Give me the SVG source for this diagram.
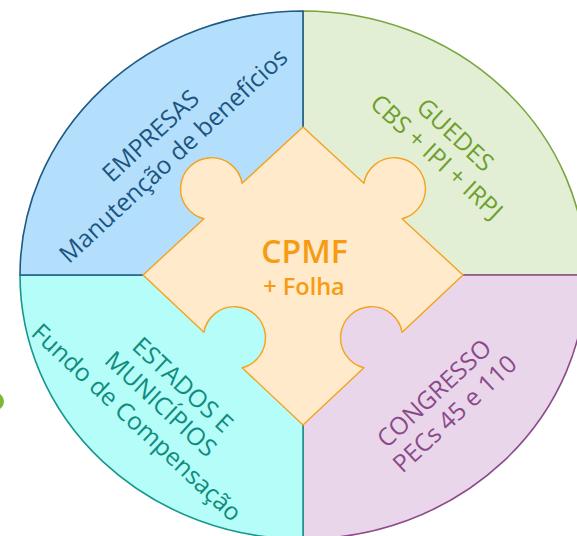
<svg xmlns="http://www.w3.org/2000/svg" width="577" height="536" viewBox="0 0 577 536">
<style>
.q{stroke-width:1.6;stroke-linejoin:round}
.t{font-family:"Open Sans","Liberation Sans",sans-serif;font-size:24.5px;font-weight:500;text-anchor:middle}
.c{font-family:"Open Sans","Liberation Sans",sans-serif;font-weight:600;text-anchor:middle;fill:#f59c12}
</style>
<rect width="577" height="536" fill="#ffffff"/>
<circle id="dot" cx="-5" cy="401.5" r="9" fill="#79b936"/>
<g id="guedes">
<path class="q" d="M303,275 L303,11 A283,264 0 0 1 586,275 Z" fill="#e3efd5" stroke="#7aa53e"/>
<g transform="translate(449.5,141) rotate(43)" fill="#6f9f2f" class="t">
<text x="0" y="0">GUEDES</text>
<text x="1.5" y="29">CBS + IPI + IRPJ</text>
</g>
</g>
<g id="congresso">
<path class="q" d="M303,275 L586,275 A283,264 0 0 1 303,539 Z" fill="#ead6ea" stroke="#8c4b8c"/>
<g transform="translate(440,399.5) rotate(-43)" fill="#8a4a8a" class="t">
<text x="0" y="0">CONGRESSO</text>
<text x="1" y="29">PECs 45 e 110</text>
</g>
</g>
<g id="estados">
<path class="q" d="M303,275 L303,539 A283,264 0 0 1 20,275 Z" fill="#b4fdf8" stroke="#18988b"/>
<g transform="translate(177,391) rotate(43)" fill="#108c7e" class="t">
<text x="0" y="0">ESTADOS E</text>
<text x="-3" y="29">MUNICÍPIOS</text>
<text x="-8" y="59">Fundo de Compensação</text>
</g>
</g>
<g id="empresas">
<path class="q" d="M303,275 L20,275 A283,264 0 0 1 303,11 Z" fill="#b4dffc" stroke="#1f5a84"/>
<g transform="translate(156.5,142) rotate(-43)" fill="#1b5480" class="t">
<text x="0" y="0">EMPRESAS</text>
<text x="3" y="30">Manutenção de benefícios</text>
</g>
</g>
<g id="connectors"></g>
<g id="cpmf">
<path d="M143,275 L203.9,218.7 A31,31 0 1 1 242.1,183.3 L303,127 L363.9,183.3 A31,31 0 1 1 402.1,218.7 L463,275 L402.1,332.3 A31,31 0 1 0 363.9,367.7 L303,425 L242.1,367.7 A31,31 0 1 0 203.9,332.3 Z" fill="#ffeacc" stroke="#f4a21f" stroke-width="1.4" stroke-linejoin="round"/>
<text class="c" x="304.5" y="262.5" font-size="32">CPMF</text>
<text class="c" x="304" y="295" font-size="23.5">+ Folha</text>
</g>
</svg>
